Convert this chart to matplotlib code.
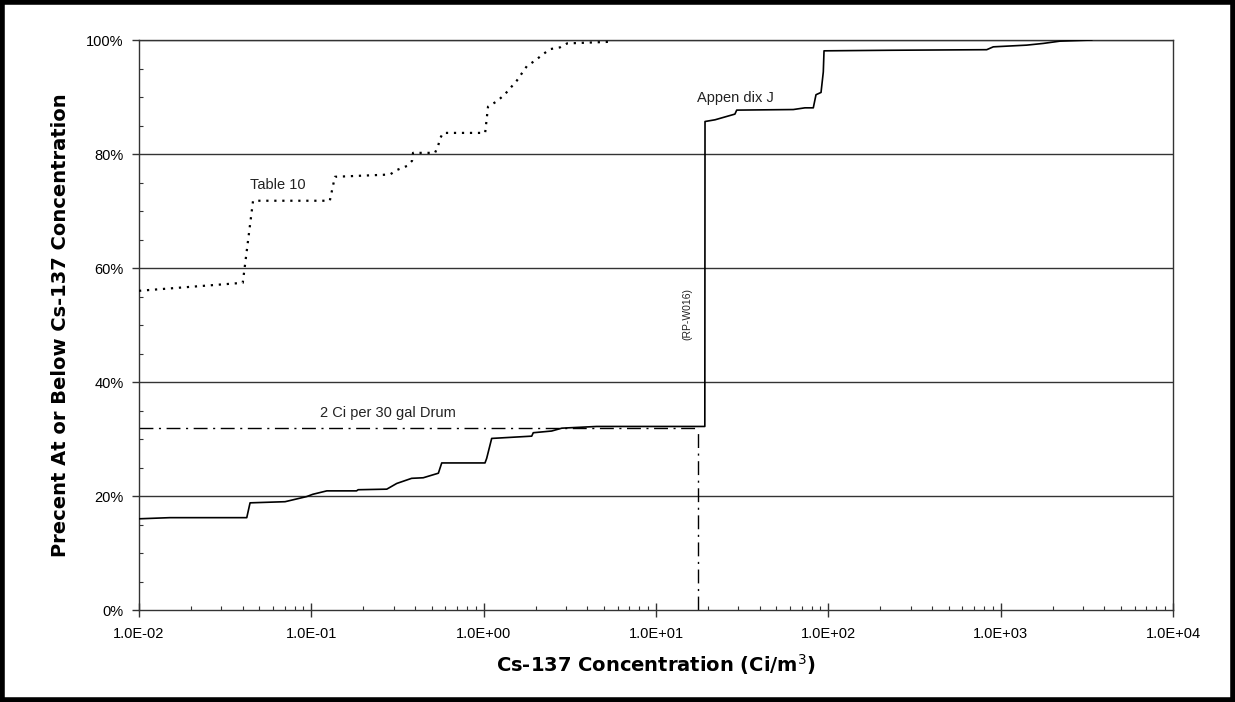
import matplotlib
matplotlib.use('Agg')
import matplotlib.pyplot as plt
from matplotlib.ticker import FixedLocator, FuncFormatter, LogLocator, NullFormatter
from matplotlib.patches import Rectangle

# Table 10 (dotted curve)
table10_conc = [0.01, 0.040, 0.0459, 0.128, 0.137, 0.286, 0.314, 0.359, 0.384, 0.389,
                0.522, 0.545, 0.558, 0.581, 1.02, 1.06, 1.20, 1.33, 1.56, 1.67, 1.78,
                1.99, 2.21, 2.43, 2.77, 3.05, 5.56]
table10_pct = [56.0, 57.4, 71.8, 71.8, 76.0, 76.4, 77.2, 77.9, 78.8, 80.2,
               80.2, 81.5, 82.7, 83.7, 83.7, 88.3, 89.3, 90.5, 92.9, 94.2, 95.4,
               96.4, 97.5, 98.4, 98.7, 99.4, 99.7]

# Appendix J (solid curve)
appj_conc = [0.01, 0.0151, 0.0422, 0.0441, 0.0704, 0.094, 0.102, 0.123, 0.183, 0.187,
             0.274, 0.313, 0.382, 0.446, 0.546, 0.571, 1.018, 1.041, 1.113, 1.90,
             1.94, 2.48, 2.84, 4.53, 19.2, 19.25, 22.0, 28.7, 29.4, 62.6, 73.2,
             81.8, 84.8, 90.7, 93.5, 94.4, 228, 830, 906, 1416, 1767, 2209, 3376]
appj_pct = [16.0, 16.2, 16.2, 18.8, 19.0, 19.9, 20.3, 20.9, 20.9, 21.1,
            21.2, 22.2, 23.1, 23.2, 24.0, 25.8, 25.8, 26.6, 30.1, 30.5,
            31.1, 31.4, 31.9, 32.2, 32.2, 85.7, 86.0, 87.0, 87.7, 87.8, 88.1,
            88.1, 90.4, 90.8, 94.4, 98.1, 98.2, 98.3, 98.8, 99.1, 99.4, 99.8, 100.0]

# 2 Ci per 30 gal drum reference
drum_conc = 17.6
drum_pct = 32.0

x_ticks = [1e-2, 1e-1, 1e0, 1e1, 1e2, 1e3, 1e4]
x_tick_labels = ['1.0E-02', '1.0E-01', '1.0E+00', '1.0E+01', '1.0E+02', '1.0E+03', '1.0E+04']
y_ticks = [0, 20, 40, 60, 80, 100]

plain = ['Liberation Sans', 'DejaVu Sans']

fig = plt.figure(figsize=(12.35, 7.02), dpi=100)
ax = fig.add_axes([139 / 1235, 92 / 702, (1173 - 139) / 1235, (610 - 40) / 702])

ax.set_xscale('log')
ax.set_xlim(1e-2, 1e4)
ax.set_ylim(0, 100)

# gridlines
for y in y_ticks[1:]:
    ax.axhline(y, color='#333333', lw=1.0, zorder=1)

# curves
ax.plot(table10_conc, table10_pct, color='black', lw=1.6, linestyle=(0, (1, 2.6)), zorder=3)
ax.plot(appj_conc, appj_pct, color='black', lw=1.2, zorder=3)

# drum limit lines
ax.plot([1e-2, drum_conc], [drum_pct, drum_pct], color='black', lw=1.0,
        linestyle=(0, (10, 4, 1.5, 4)), zorder=2)
ax.plot([drum_conc, drum_conc], [0, drum_pct], color='black', lw=1.0,
        linestyle=(0, (10, 4, 1.5, 4)), zorder=2)

# annotations
ax.text(0.044, 74.6, 'Table 10', family=plain, fontsize=10.5, va='center', ha='left', color='#222222')
ax.text(17.3, 89.8, 'Appen dix J', family=plain, fontsize=10.5, va='center', ha='left', color='#222222')
ax.text(0.112, 34.6, '2 Ci per 30 gal Drum', family=plain, fontsize=10.5, va='center', ha='left',
        color='#222222')
ax.text(15.3, 51.9, '(RP-W016)', family=plain, fontsize=7.5, rotation=90, va='center', ha='center',
        color='#222222')

# axes styling
for s in ax.spines.values():
    s.set_color('#333333')
    s.set_linewidth(1.0)

ax.xaxis.set_major_locator(FixedLocator(x_ticks))
ax.set_xticklabels(x_tick_labels, family=plain, fontsize=10.5)
ax.xaxis.set_minor_locator(LogLocator(base=10, subs=range(2, 10)))
ax.xaxis.set_minor_formatter(NullFormatter())
ax.tick_params(axis='x', which='major', direction='inout', length=10, width=1, color='#333333', pad=7)
ax.tick_params(axis='x', which='minor', direction='in', length=3, width=0.8, color='#333333')

ax.yaxis.set_major_locator(FixedLocator(y_ticks))
ax.yaxis.set_major_formatter(FuncFormatter(lambda v, p: f'{int(v)}%'))
ax.yaxis.set_minor_locator(FixedLocator(list(range(0, 101, 5))))
for lab in ax.get_yticklabels():
    lab.set_family(plain)
    lab.set_fontsize(10.5)
ax.tick_params(axis='y', which='major', direction='out', length=5, width=1, color='#333333', pad=6)
ax.tick_params(axis='y', which='minor', direction='in', length=3, width=0.8, color='#333333')

ax.set_xlabel('Cs-137 Concentration (Ci/m$^{3}$)', fontsize=14, fontweight='bold', labelpad=8)
ax.set_ylabel('Precent At or Below Cs-137 Concentration', fontsize=14, fontweight='bold', labelpad=12)

# outer black frame
fig.patches.append(Rectangle((0.002, 0.003), 0.996, 0.994, transform=fig.transFigure,
                             fill=False, edgecolor='black', linewidth=4))

fig.savefig('out.png', dpi=100)
